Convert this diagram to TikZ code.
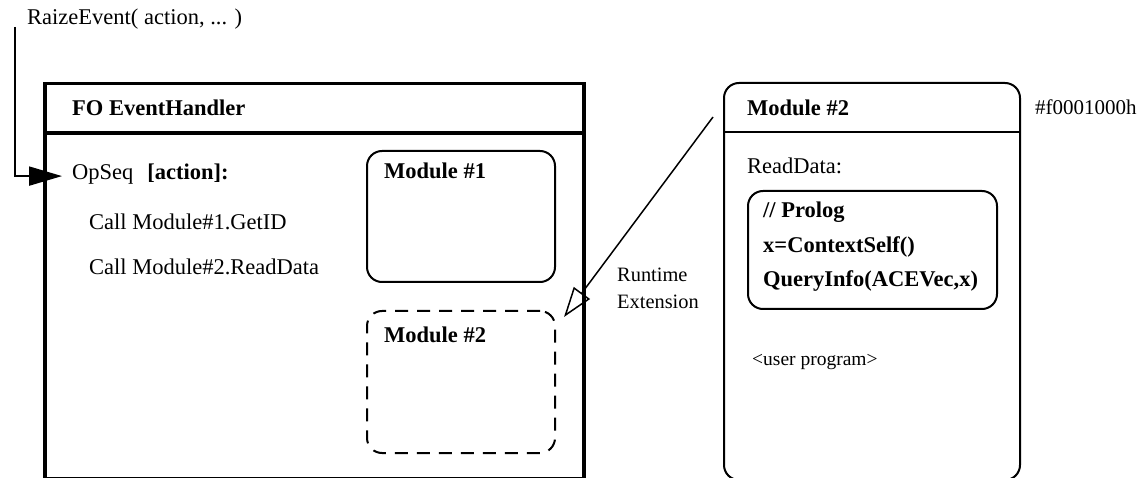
\documentclass[tikz,border=0pt]{standalone}
\usepackage{fontspec}
\setmainfont{Liberation Serif}
\usetikzlibrary{arrows.meta}
\begin{document}
\begin{tikzpicture}[x=1pt,y=-1pt,
  txt/.style={anchor=base west,inner sep=0pt,font=\fontsize{22.5}{27}\selectfont},
  small/.style={anchor=base west,inner sep=0pt,font=\fontsize{19.5}{24}\selectfont},
  heavybox/.style={draw,line width=3.5pt,rectangle,anchor=north west,inner sep=0pt},
  modbox/.style={draw,line width=2pt,rectangle,rounded corners=15pt,anchor=north west,inner sep=0pt},
  dashbox/.style={modbox,dash pattern=on 13pt off 9pt},
  wire/.style={line width=2pt},
]
\useasboundingbox (0,0) rectangle (1138,478);
\clip (0,0) rectangle (1138,478);

% FO event handler frame with header bar
\node[heavybox,minimum width=539pt,minimum height=395pt] (handler) at (43,82) {};
\draw[line width=3.5pt] (handler.west |- 0,133) -- (handler.east |- 0,133);
\node[txt] (hdr) at (72,116) {\textbf{FO EventHandler}};
\node[txt] (opseq) at (72,180) {OpSeq\hspace{14pt}\textbf{[action]:}};
\node[txt] (call1) at (89,230) {Call Module\#1.GetID};
\node[txt] (call2) at (89,275) {Call Module\#2.ReadData};

% loaded and runtime-added modules
\node[modbox,minimum width=188pt,minimum height=131pt] (mod1) at (366,150) {};
\node[txt] (mod1t) at (384,179) {\textbf{Module \#1}};
\node[dashbox,minimum width=188pt,minimum height=142pt] (mod2d) at (366,310) {};
\node[txt] (mod2dt) at (384,343) {\textbf{Module \#2}};

% incoming event
\node[txt] (raise) at (27,25) {RaizeEvent( action, ... )};
\coordinate (raiseend) at (15,27);
\draw[wire,-{Triangle[length=33pt,width=19pt]}] (raiseend) |- ([xshift=-10pt,yshift=-1.5pt]opseq.west);

% module #2 image
\node[modbox,minimum width=296pt,minimum height=397pt] (mod2) at (723,82) {};
\draw[line width=2pt] (mod2.west |- 0,132) -- (mod2.east |- 0,132);
\node[txt] (mod2t) at (747,116) {\textbf{Module \#2}};
\node[anchor=base west,inner sep=0pt,font=\fontsize{21}{25}\selectfont] (addr) at (1035,115) {\#f0001000h};
\node[txt] (rd) at (747,174) {ReadData:};
\node[modbox,minimum width=249pt,minimum height=118pt] (prolog) at (747,190) {};
\node[txt] (p1) at (763,218) {\textbf{// Prolog}};
\node[txt] (p2) at (763,253) {\textbf{x=ContextSelf()}};
\node[txt] (p3) at (763,287) {\textbf{QueryInfo(ACEVec,x)}};
\node[small] (user) at (752,366) {<user program>};

% runtime extension link
\coordinate (extfrom) at (713,117);
\draw[line width=1.5pt,-{Triangle[open,length=30pt,width=20pt,line width=1.5pt]}] (extfrom) -- ([xshift=8pt,yshift=-7pt]mod2d.north east);
\node[anchor=base west,inner sep=0pt,font=\fontsize{20.4}{27}\selectfont] (rt1) at (617,282) {Runtime};
\node[anchor=base west,inner sep=0pt,font=\fontsize{20.4}{27}\selectfont] (rt2) at (617,309) {Extension};
\end{tikzpicture}
\end{document}
